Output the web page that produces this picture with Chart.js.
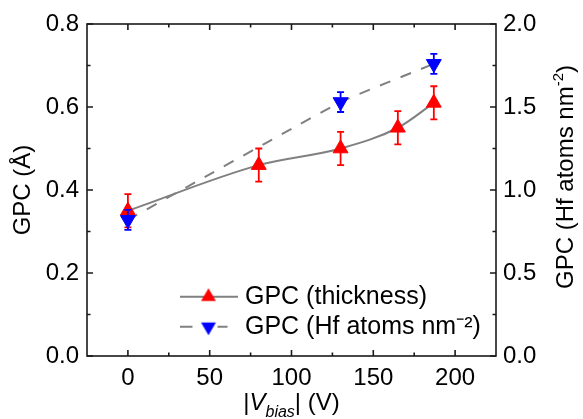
<!DOCTYPE html>
<html>
<head>
<meta charset="utf-8">
<script src="https://cdn.jsdelivr.net/npm/chart.js@4.4.0/dist/chart.umd.min.js"></script>
<style>
body { margin: 0; background: #fff; }
canvas { display: block; }
</style>
</head>
<body>
<canvas id="myChart" width="583" height="419"></canvas>
<script>
// values
const voltage = [0, 80, 130, 165, 187];
const gpcThickness = [0.35, 0.46, 0.50, 0.55, 0.61];
const errThickness = [0.04, 0.04, 0.04, 0.04, 0.04];

const voltageHf = [0, 130, 187];
const gpcHf = [0.82, 1.53, 1.76];
const errHf = [0.06, 0.06, 0.06];

const xTicks = [0, 50, 100, 150, 200];
const yTicks = [0, 0.2, 0.4, 0.6, 0.8];
const y2Ticks = [0, 0.5, 1.0, 1.5, 2.0];

const errors = [errThickness, errHf];
const FONT = "'Liberation Sans', Arial, sans-serif";
Chart.defaults.font.family = FONT;
Chart.defaults.color = '#000';

// little line + marker pictures for the legend
function legendIcon(dashed, color, flip) {
  const c = document.createElement('canvas');
  c.width = 58; c.height = 20;
  const g = c.getContext('2d');
  g.strokeStyle = '#808080';
  g.lineWidth = 2;
  g.beginPath();
  if (dashed) {
    g.moveTo(0, 10); g.lineTo(13, 10);
    g.moveTo(38, 10); g.lineTo(48, 10);
  } else {
    g.moveTo(0, 10); g.lineTo(58, 10);
  }
  g.stroke();
  const r = 8.6, cx = 29, cy = 10, s = flip ? -1 : 1;
  g.fillStyle = color;
  g.beginPath();
  g.moveTo(cx, cy - s * r);
  g.lineTo(cx + r * 0.866, cy + s * r / 2);
  g.lineTo(cx - r * 0.866, cy + s * r / 2);
  g.closePath();
  g.fill();
  return c;
}
const legendIcons = [legendIcon(false, '#ff0000', false), legendIcon(true, '#0000ff', true)];

// error bars, drawn just before each dataset
const errorBars = {
  id: 'errorBars',
  beforeDatasetDraw(chart, args) {
    const i = args.index;
    const ds = chart.data.datasets[i];
    const ys = chart.scales[ds.yAxisID];
    const ctx = chart.ctx;
    ctx.save();
    ctx.strokeStyle = ds.pointBackgroundColor;
    ctx.lineWidth = 1.8;
    args.meta.data.forEach((pt, j) => {
      const v = ds.data[j].y, e = errors[i][j];
      const top = ys.getPixelForValue(v + e), bot = ys.getPixelForValue(v - e);
      ctx.beginPath();
      ctx.moveTo(pt.x, top); ctx.lineTo(pt.x, bot);
      ctx.moveTo(pt.x - 3.5, top); ctx.lineTo(pt.x + 3.5, top);
      ctx.moveTo(pt.x - 3.5, bot); ctx.lineTo(pt.x + 3.5, bot);
      ctx.stroke();
    });
    ctx.restore();
  }
};

// writes text pieces one after another: [text, font, dy]
function drawParts(ctx, parts, x, y, centre) {
  let w = 0;
  parts.forEach(p => { ctx.font = p[1]; w += ctx.measureText(p[0]).width; });
  if (centre) x -= w / 2;
  parts.forEach(p => {
    ctx.font = p[1];
    ctx.fillText(p[0], x, y + p[2]);
    x += ctx.measureText(p[0]).width;
  });
}

// box, inward ticks, x title and right title
const frame = {
  id: 'frame',
  afterLayout(chart) {
    const lg = chart.legend;
    lg.left = 179.5; lg.top = 279.2;
    lg.right = lg.left + 320; lg.bottom = lg.top + 80;
  },
  afterDraw(chart) {
    const { ctx, chartArea: a, scales } = chart;
    const mid = t => t.slice(1).map((v, k) => (v + t[k]) / 2);
    ctx.save();
    ctx.strokeStyle = '#1a1a1a';
    ctx.lineWidth = 1.6;
    ctx.strokeRect(a.left, a.top, a.right - a.left, a.bottom - a.top);

    ctx.beginPath();
    const xt = (list, len) => list.forEach(v => {
      const p = scales.x.getPixelForValue(v);
      ctx.moveTo(p, a.bottom); ctx.lineTo(p, a.bottom - len);
      ctx.moveTo(p, a.top); ctx.lineTo(p, a.top + len);
    });
    const yt = (sc, list, len, right) => list.forEach(v => {
      const p = sc.getPixelForValue(v);
      if (right) { ctx.moveTo(a.right, p); ctx.lineTo(a.right - len, p); }
      else { ctx.moveTo(a.left, p); ctx.lineTo(a.left + len, p); }
    });
    xt(xTicks, 6); xt(mid(xTicks), 3.5);
    yt(scales.y, yTicks, 6, false); yt(scales.y, mid(yTicks), 3.5, false);
    yt(scales.y2, y2Ticks, 6, true); yt(scales.y2, mid(y2Ticks), 3.5, true);
    ctx.stroke();

    ctx.fillStyle = '#000';
    ctx.textBaseline = 'alphabetic';
    // x title: |V_bias| (V)
    drawParts(ctx, [
      ['|', '24px ' + FONT, 0],
      ['V', 'italic 24px ' + FONT, 0],
      ['bias', 'italic 16px ' + FONT, 7],
      ['| (V)', '24px ' + FONT, 0]
    ], (a.left + a.right) / 2, 410, true);

    // right title, reading upwards
    ctx.translate(573, 177);
    ctx.rotate(-Math.PI / 2);
    drawParts(ctx, [
      ['GPC (Hf atoms nm', '24px ' + FONT, 0],
      ['-2', '15px ' + FONT, -10],
      [')', '24px ' + FONT, 0]
    ], 0, 0, true);
    ctx.restore();
  }
};

const config = {
  type: 'line',
  data: {
    datasets: [{
      label: 'GPC (thickness)',
      data: voltage.map((v, i) => ({ x: v, y: gpcThickness[i] })),
      yAxisID: 'y',
      order: 2,
      borderColor: '#808080',
      borderWidth: 2,
      cubicInterpolationMode: 'monotone',
      pointStyle: 'triangle',
      pointRadius: 8.6,
      pointBackgroundColor: '#ff0000',
      pointBorderColor: '#ff0000',
      pointBorderWidth: 1
    }, {
      label: 'GPC (Hf atoms nm\u207B\u00B2)',
      data: voltageHf.map((v, i) => ({ x: v, y: gpcHf[i] })),
      yAxisID: 'y2',
      order: 1,
      borderColor: '#808080',
      borderWidth: 2,
      borderDash: [11, 11],
      tension: 0.1,
      pointStyle: 'triangle',
      pointRotation: 180,
      pointRadius: 8.6,
      pointBackgroundColor: '#0000ff',
      pointBorderColor: '#0000ff',
      pointBorderWidth: 1
    }]
  },
  options: {
    responsive: false,
    animation: false,
    events: [],
    layout: { padding: { top: 24, left: 0, right: 0, bottom: 0 } },
    plugins: {
      tooltip: { enabled: false },
      legend: {
        position: 'chartArea',
        align: 'start',
        labels: {
          usePointStyle: true,
          pointStyleWidth: 48,
          padding: 5,
          font: { size: 25 },
          color: '#000',
          generateLabels: chart => chart.data.datasets.map((ds, i) => ({
            text: ds.label,
            pointStyle: legendIcons[i],
            datasetIndex: i,
            fillStyle: ds.pointBackgroundColor,
            strokeStyle: ds.pointBackgroundColor,
            lineWidth: 0,
            hidden: false,
            fontColor: '#000'
          }))
        }
      }
    },
    scales: {
      x: {
        type: 'linear',
        position: 'bottom',
        min: -25,
        max: 225,
        afterBuildTicks: s => { s.ticks = xTicks.map(v => ({ value: v })); },
        afterFit: s => { s.height = 63; },
        grid: { display: false, drawTicks: false },
        border: { display: false },
        ticks: { font: { size: 24 }, padding: 8, maxRotation: 0 }
      },
      y: {
        position: 'left',
        min: 0,
        max: 0.8,
        afterBuildTicks: s => { s.ticks = yTicks.map(v => ({ value: v })); },
        afterFit: s => { s.width = 87; },
        grid: { display: false, drawTicks: false },
        border: { display: false },
        ticks: { font: { size: 24 }, padding: 8, callback: v => v.toFixed(1) },
        title: { display: true, text: 'GPC (Å)', font: { size: 24 }, padding: { top: 9, bottom: 0 } }
      },
      y2: {
        position: 'right',
        min: 0,
        max: 2.0,
        afterBuildTicks: s => { s.ticks = y2Ticks.map(v => ({ value: v })); },
        afterFit: s => { s.width = 87; },
        grid: { display: false, drawTicks: false },
        border: { display: false },
        ticks: { font: { size: 24 }, padding: 7, callback: v => v.toFixed(1) }
      }
    }
  },
  plugins: [errorBars, frame]
};

const myChart = new Chart(document.getElementById('myChart'), config);
</script>
</body>
</html>
